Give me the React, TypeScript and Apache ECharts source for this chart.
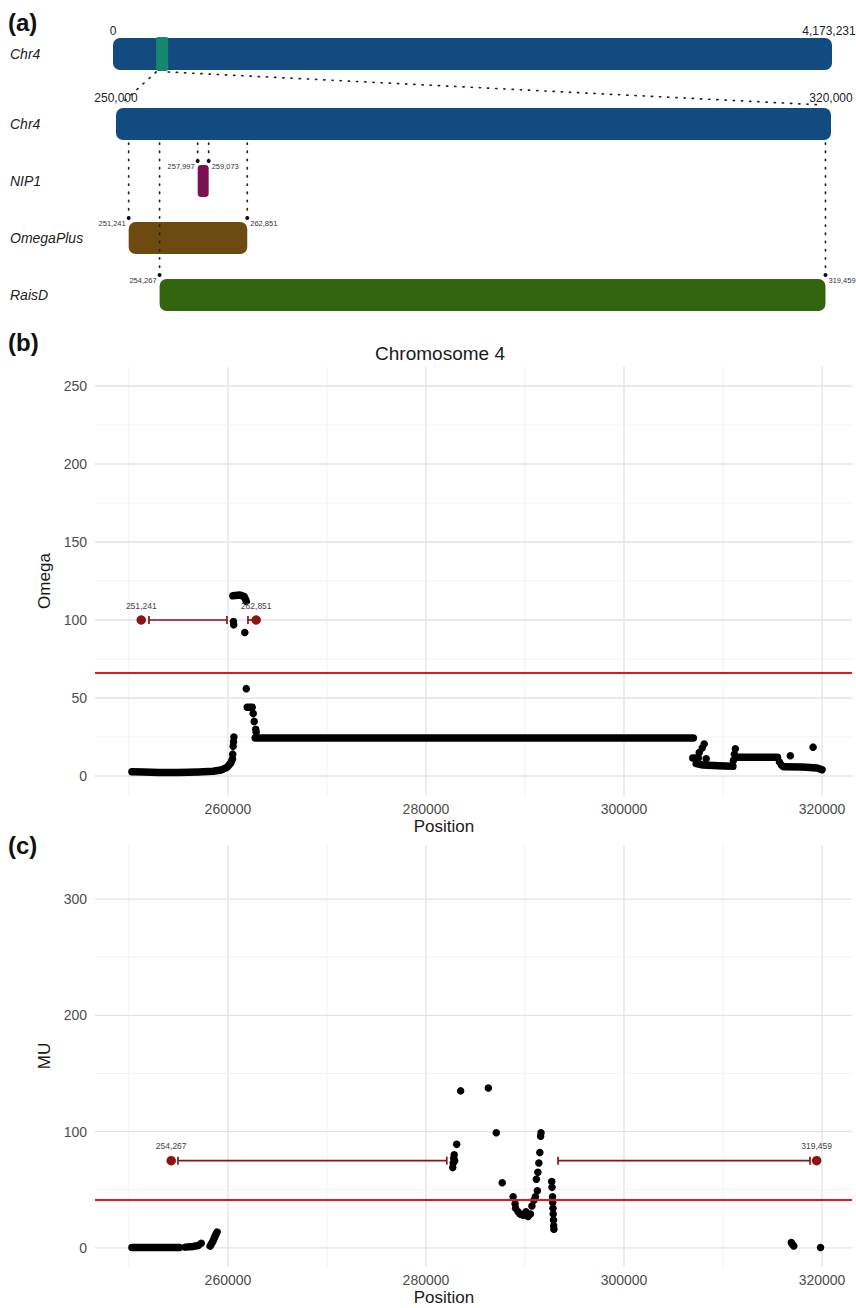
import React, { useEffect, useRef } from 'react';
import * as echarts from 'echarts';

// ---------- data ----------
const chrLength = 4173231;
const zoomRegion = [250000, 320000];
const trackNames = ['Chr4', 'NIP1', 'OmegaPlus', 'RaisD'];
// [start, end, rowIndex]
const featureTracks = [
  [257997, 259073, 1],
  [251241, 262851, 2],
  [254267, 319459, 3],
];
const trackColors = ['#124b80', '#7b1152', '#6c4a10', '#33640e'];
const highlightColor = '#16876c';

const omegaThreshold = 66;
const muThreshold = 41.5;

// dense stretches of points (drawn as thick runs of dots)
const omegaRuns = [
  [[250300, 2.8], [251500, 2.6], [253000, 2.3], [255000, 2.3], [257000, 2.6], [258500, 3], [259300, 3.8], [259900, 5.5], [260300, 8.5], [260450, 11]],
  [[260500, 115.5], [261200, 116], [261650, 115], [261850, 112]],
  [[261950, 44], [262450, 44]],
  [[262750, 24.4], [307000, 24.4]],
  [[306950, 11.5], [307500, 11.5]],
  [[307300, 8], [308000, 7], [309500, 6.5], [311000, 6.2]],
  [[311300, 12], [315500, 12]],
  [[316100, 6], [318000, 5.8], [319500, 5.2], [320000, 4]],
];
const omegaPoints = [
  [260480, 14], [260520, 19], [260560, 22], [260600, 25], [260550, 99], [260580, 97], [261700, 92], [261850, 56],
  [262550, 40], [262650, 35], [262800, 30], [262850, 28], [307600, 15], [307900, 18], [308100, 20.5], [308300, 11],
  [311050, 10], [311150, 14], [311250, 17.5], [315700, 9], [315900, 7], [316800, 13], [319100, 18.5],
];
const muRuns = [
  [[250300, 0.3], [255100, 0.3]],
  [[255700, 0.6], [256500, 1.2], [257000, 2]],
  [[258200, 1.5], [258500, 6], [258750, 11], [258900, 13.5]],
];
const muPoints = [
  [257300, 4], [282700, 69], [282750, 73], [282800, 77], [282850, 80], [282900, 75], [283100, 89], [283500, 135],
  [286300, 137.5], [287100, 99], [287700, 56], [288800, 44], [289000, 38], [289050, 34], [289300, 31], [289500, 29],
  [289800, 28], [290100, 31], [290300, 27], [290550, 29], [290700, 36], [290900, 41], [291050, 44], [291250, 49],
  [291150, 59], [291300, 65], [291400, 73], [291500, 82], [291580, 96], [291620, 99], [292700, 57], [292730, 52],
  [292780, 44], [292800, 39], [292830, 34], [292850, 29], [292880, 24], [292900, 19], [292920, 16],
  [316900, 4.5], [317000, 3], [317150, 1.5], [319850, 0.2],
];

const omegaHits = [[251241, 100], [262851, 100]];
const omegaSegments = [[252020, 259900, 100], [262020, 262851, 100]];
const muHits = [[254267, 75], [319459, 75]];
const muSegments = [[254950, 282100, 75], [293340, 318790, 75]];

const posMajor = [260000, 280000, 300000, 320000];
const posMinor = [250000, 270000, 290000, 310000];
const omegaMajor = [0, 50, 100, 150, 200, 250];
const omegaMinor = [25, 75, 125, 175, 225];
const muMajor = [0, 100, 200, 300];
const muMinor = [50, 150, 250];

// ---------- helpers ----------
const FONT = '"Liberation Sans", Arial, Helvetica, sans-serif';
const HIT = '#8b1414';
const fmt = (n: number) => n.toLocaleString('en-US');
const BAR_H = 32;
const DOTS = { stroke: '#222', lineWidth: 1.7, lineDash: [1.2, 7], lineCap: 'round' };

const txt = (text: string, x: number, y: number, size: number, align: string, extra: any = {}) => ({
  type: 'text',
  style: {
    text, x, y, font: `${extra.weight || ''} ${extra.italic ? 'italic' : ''} ${size}px ${FONT}`,
    fill: extra.fill || '#222', textAlign: align, textVerticalAlign: 'middle', align, verticalAlign: 'middle',
  },
});

function gridSeries(ai: number, vals: number[], dir: 'x' | 'y', major: boolean, midX: number) {
  return {
    type: 'custom', xAxisIndex: ai, yAxisIndex: ai, silent: true, z: 0,
    data: vals.map((v) => [v]),
    renderItem: (params: any, api: any) => {
      const cs = params.coordSys;
      const v = api.value(0);
      const style = { stroke: major ? '#e3e3e3' : '#f1f1f1', lineWidth: major ? 1.3 : 0.9 };
      if (dir === 'x') {
        const x = api.coord([v, 0])[0];
        return { type: 'line', shape: { x1: x, y1: cs.y, x2: x, y2: cs.y + cs.height }, style };
      }
      const y = api.coord([midX, v])[1];
      return { type: 'line', shape: { x1: cs.x, y1: y, x2: cs.x + cs.width, y2: y }, style };
    },
  };
}

function panelSeries(ai: number, runs: number[][][], pts: number[][], thr: number, hits: number[][], segs: number[][], grid: { major: number[]; minor: number[] }) {
  const s: any[] = [
    gridSeries(ai, posMinor, 'x', false, 280000),
    gridSeries(ai, posMajor, 'x', true, 280000),
    gridSeries(ai, grid.minor, 'y', false, 280000),
    gridSeries(ai, grid.major, 'y', true, 280000),
  ];
  runs.forEach((r) => {
    s.push({
      type: 'line', xAxisIndex: ai, yAxisIndex: ai, data: r, symbol: 'none', silent: true, z: 3,
      lineStyle: { color: '#000', width: 7.5, cap: 'round', join: 'round', opacity: 1 },
    });
  });
  s.push({
    type: 'scatter', xAxisIndex: ai, yAxisIndex: ai, data: pts, symbolSize: 7.5, silent: true, z: 3,
    itemStyle: { color: '#000', opacity: 1 },
    markLine: {
      silent: true, symbol: ['none', 'none'], label: { show: false },
      lineStyle: { color: '#e3181d', width: 1.8, type: 'solid', opacity: 1 },
      data: [{ yAxis: thr }],
    },
  });
  s.push({
    type: 'custom', xAxisIndex: ai, yAxisIndex: ai, data: segs, silent: true, z: 4,
    encode: { x: [0, 1], y: 2 },
    renderItem: (params: any, api: any) => {
      const a = api.coord([api.value(0), api.value(2)]);
      const b = api.coord([api.value(1), api.value(2)]);
      const st = { stroke: HIT, lineWidth: 1.7 };
      return {
        type: 'group', children: [
          { type: 'line', shape: { x1: a[0], y1: a[1], x2: b[0], y2: b[1] }, style: st },
          { type: 'line', shape: { x1: a[0], y1: a[1] - 4, x2: a[0], y2: a[1] + 4 }, style: st },
          { type: 'line', shape: { x1: b[0], y1: b[1] - 4, x2: b[0], y2: b[1] + 4 }, style: st },
        ],
      };
    },
  });
  s.push({
    type: 'scatter', xAxisIndex: ai, yAxisIndex: ai, data: hits, symbolSize: 9.5, silent: true, z: 5,
    itemStyle: { color: HIT, opacity: 1 },
    label: { show: true, position: 'top', distance: 5, formatter: (p: any) => fmt(p.value[0]), fontSize: 8.5, color: '#444', fontFamily: FONT },
  });
  return s;
}

function valueXAxis(gi: number) {
  return {
    type: 'value', gridIndex: gi, min: 246570, max: 323030,
    axisLine: { show: false }, axisTick: { show: false }, splitLine: { show: false },
    axisLabel: { fontSize: 14, color: '#4d4d4d', margin: 6, fontFamily: FONT, showMinLabel: false, showMaxLabel: false, formatter: (v: number) => String(v) },
  };
}
function valueYAxis(gi: number, name: string, min: number, max: number) {
  return {
    type: 'value', gridIndex: gi, min, max,
    name, nameLocation: 'middle', nameGap: 38,
    nameTextStyle: { fontSize: 17, color: '#1a1a1a', fontFamily: FONT },
    axisLine: { show: false }, axisTick: { show: false }, splitLine: { show: false },
    axisLabel: { fontSize: 14, color: '#4d4d4d', margin: 8, fontFamily: FONT, showMinLabel: false, showMaxLabel: false },
  };
}

function buildOption() {
  const rowLabel = (margin: number) => ({ align: 'left', margin, fontStyle: 'italic', fontSize: 14, color: '#222', fontFamily: FONT });
  return {
    animation: false,
    textStyle: { fontFamily: FONT },
    grid: [
      { left: 113, top: 25.5, width: 719, height: 57 },
      { left: 116, top: 95.5, width: 715, height: 228 },
      { left: 95, top: 366.5, width: 757, height: 429 },
      { left: 95, top: 845, width: 757, height: 422 },
    ],
    xAxis: [
      { type: 'value', gridIndex: 0, min: 0, max: chrLength, show: false },
      { type: 'value', gridIndex: 1, min: zoomRegion[0], max: zoomRegion[1], show: false },
      valueXAxis(2),
      valueXAxis(3),
    ],
    yAxis: [
      { type: 'category', gridIndex: 0, data: [trackNames[0]], axisLine: { show: false }, axisTick: { show: false }, axisLabel: rowLabel(103) },
      { type: 'category', gridIndex: 1, data: trackNames, inverse: true, axisLine: { show: false }, axisTick: { show: false }, axisLabel: rowLabel(106) },
      valueYAxis(2, 'Omega', -12.5, 262.5),
      valueYAxis(3, 'MU', -16.5, 346.5),
    ],
    series: [
      {
        type: 'custom', xAxisIndex: 0, yAxisIndex: 0, silent: true, encode: { x: [0, 1], y: 2 },
        data: [[0, chrLength, 0]],
        renderItem: (params: any, api: any) => {
          const a = api.coord([api.value(0), 0]);
          const b = api.coord([api.value(1), 0]);
          const top = a[1] - BAR_H / 2;
          return {
            type: 'group', children: [
              { type: 'rect', shape: { x: a[0], y: top, width: b[0] - a[0], height: BAR_H, r: 7 }, style: { fill: trackColors[0] } },
              txt(fmt(api.value(0)), a[0], top - 7, 12, 'center'),
              txt(fmt(api.value(1)), b[0] - 3, top - 7, 12, 'center'),
            ],
          };
        },
      },
      {
        type: 'custom', xAxisIndex: 0, yAxisIndex: 0, silent: true, encode: { x: [0, 1], y: 2 }, z: 3,
        data: [[zoomRegion[0], zoomRegion[1], 0]],
        renderItem: (params: any, api: any) => {
          const a = api.coord([api.value(0), 0]);
          const b = api.coord([api.value(1), 0]);
          return { type: 'rect', shape: { x: a[0], y: a[1] - BAR_H / 2 - 1, width: b[0] - a[0], height: BAR_H + 2, r: 2 }, style: { fill: highlightColor } };
        },
      },
      {
        type: 'custom', xAxisIndex: 1, yAxisIndex: 1, silent: true, encode: { x: [0, 1], y: 2 },
        data: [[zoomRegion[0], zoomRegion[1], 0], ...featureTracks],
        renderItem: (params: any, api: any) => {
          const s = api.value(0), e = api.value(1), row = api.value(2);
          const a = api.coord([s, row]);
          const b = api.coord([e, row]);
          const w = b[0] - a[0];
          const top = a[1] - BAR_H / 2;
          const children: any[] = [
            { type: 'rect', shape: { x: a[0], y: top, width: w, height: BAR_H, r: Math.min(7, w / 2 - 2) }, style: { fill: trackColors[row] } },
          ];
          if (row === 0) {
            children.push(txt(fmt(s), a[0], top - 10, 12, 'center'));
            children.push(txt(fmt(e), b[0], top - 10, 12, 'center'));
          } else {
            const chrBottom = api.coord([s, 0])[1] + BAR_H / 2 + 3;
            const dotY = top - 4;
            ([[a[0], s, -1], [b[0], e, 1]] as number[][]).forEach(([x, v, side]) => {
              children.push({ type: 'line', shape: { x1: x, y1: chrBottom, x2: x, y2: dotY }, style: DOTS });
              children.push({ type: 'circle', shape: { cx: x, cy: dotY, r: 2 }, style: { fill: '#111' } });
              children.push(txt(fmt(v), x + side * 3, dotY + 5, 7.5, side < 0 ? 'right' : 'left', { fill: '#333' }));
            });
          }
          return { type: 'group', children };
        },
      },
      ...panelSeries(2, omegaRuns, omegaPoints, omegaThreshold, omegaHits, omegaSegments, { major: omegaMajor, minor: omegaMinor }),
      ...panelSeries(3, muRuns, muPoints, muThreshold, muHits, muSegments, { major: muMajor, minor: muMinor }),
    ],
  };
}

export default function App() {
  const ref = useRef<HTMLDivElement>(null);
  useEffect(() => {
    const chart = echarts.init(ref.current as HTMLDivElement, null, { renderer: 'svg' });
    chart.setOption(buildOption() as any);
    const hl0 = chart.convertToPixel({ xAxisIndex: 0, yAxisIndex: 0 } as any, [zoomRegion[0], 0]) as number[];
    const hl1 = chart.convertToPixel({ xAxisIndex: 0, yAxisIndex: 0 } as any, [zoomRegion[1], 0]) as number[];
    const z0 = chart.convertToPixel({ xAxisIndex: 1, yAxisIndex: 1 } as any, [zoomRegion[0], 0]) as number[];
    const z1 = chart.convertToPixel({ xAxisIndex: 1, yAxisIndex: 1 } as any, [zoomRegion[1], 0]) as number[];
    const hb = hl0[1] + BAR_H / 2 + 2;
    const zt = z0[1] - BAR_H / 2 - 3;
    const head = (t: string, y: number) => ({
      type: 'text', x: 8, y, style: { text: t, font: `bold 24px ${FONT}`, fill: '#111', textAlign: 'left', textVerticalAlign: 'middle', align: 'left', verticalAlign: 'middle' },
    });
    const centered = (t: string, x: number, y: number, size: number) => ({
      type: 'text', x, y,
      style: { text: t, font: `${size}px ${FONT}`, fill: '#1a1a1a', textAlign: 'center', textVerticalAlign: 'middle', align: 'center', verticalAlign: 'middle' },
    });
    chart.setOption({
      graphic: [
        { type: 'line', shape: { x1: hl0[0], y1: hb, x2: z0[0] + 4, y2: zt }, style: DOTS },
        { type: 'line', shape: { x1: hl1[0], y1: hb, x2: z1[0] - 8, y2: zt }, style: DOTS },
        head('(a)', 22),
        head('(b)', 342),
        head('(c)', 845),
        centered('Chromosome 4', 440, 353, 19),
        centered('Position', 444, 826, 17),
        centered('Position', 444, 1297, 17),
      ],
    } as any);
    return () => chart.dispose();
  }, []);
  return <div ref={ref} style={{ position: 'absolute', left: 0, top: 0, width: 856, height: 1308 }} />;
}
